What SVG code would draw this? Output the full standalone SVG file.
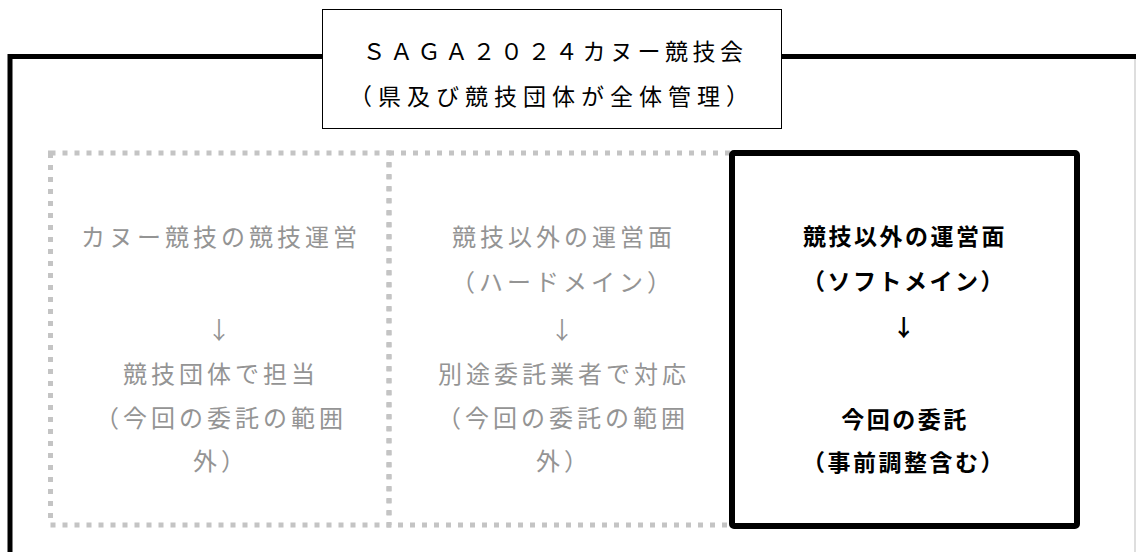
<svg xmlns="http://www.w3.org/2000/svg" width="1136" height="552" viewBox="0 0 1136 552">
<style>
text{font-family:"Noto Sans CJK JP","Noto Sans",sans-serif;font-size:24px;text-anchor:middle;dominant-baseline:central;letter-spacing:4px}
.gray{fill:#949494}
.bold{fill:#000;font-weight:bold;font-size:23px;letter-spacing:2.5px}
.title{fill:#000;font-size:23px;letter-spacing:4.5px}
.t2{letter-spacing:6px}
.dot{fill:none;stroke:#c4c4c4;stroke-width:5;stroke-dasharray:5 7}
.frame{fill:none;stroke:#000;stroke-width:5}
</style>
<rect width="1136" height="552" fill="#fff"/>
<g id="frame">
<path class="frame" d="M10,552 V56.5 H322 M782,56.5 H1136"/>
<line x1="1135" y1="59" x2="1135" y2="552" stroke="#bdbdbd" stroke-width="1"/>
</g>
<g id="title">
<rect x="322.5" y="9.5" width="459" height="119" fill="#fff" stroke="#000" stroke-width="1"/>
<text class="title" x="555" y="50">ＳＡＧＡ２０２４カヌー競技会</text>
<text class="title t2" x="552" y="95">（県及び競技団体が全体管理）</text>
</g>
<g id="box-left">
<rect class="dot" x="50.5" y="153" width="338.5" height="372"/>
<text class="gray" x="221" y="235">カヌー競技の競技運営</text>
<text class="gray" x="221" y="328">↓</text>
<text class="gray" x="221" y="372">競技団体で担当</text>
<text class="gray" x="221" y="416">（今回の委託の範囲</text>
<text class="gray" x="221" y="459">外）</text>
</g>
<g id="box-middle">
<rect class="dot" x="389" y="153" width="343" height="372"/>
<text class="gray" x="564" y="235">競技以外の運営面</text>
<text class="gray" x="563" y="280">（ハードメイン）</text>
<text class="gray" x="564" y="328">↓</text>
<text class="gray" x="564" y="372">別途委託業者で対応</text>
<text class="gray" x="563" y="416">（今回の委託の範囲</text>
<text class="gray" x="564" y="459">外）</text>
</g>
<g id="box-right">
<rect x="732" y="153" width="345" height="373" rx="2" fill="#fff" stroke="#000" stroke-width="6"/>
<text class="bold" x="905" y="235">競技以外の運営面</text>
<text class="bold" x="904" y="280">（ソフトメイン）</text>
<text class="bold" x="905" y="326">↓</text>
<text class="bold" x="905" y="418">今回の委託</text>
<text class="bold" x="904" y="461">（事前調整含む）</text>
</g>
<g id="connectors"></g>
</svg>
